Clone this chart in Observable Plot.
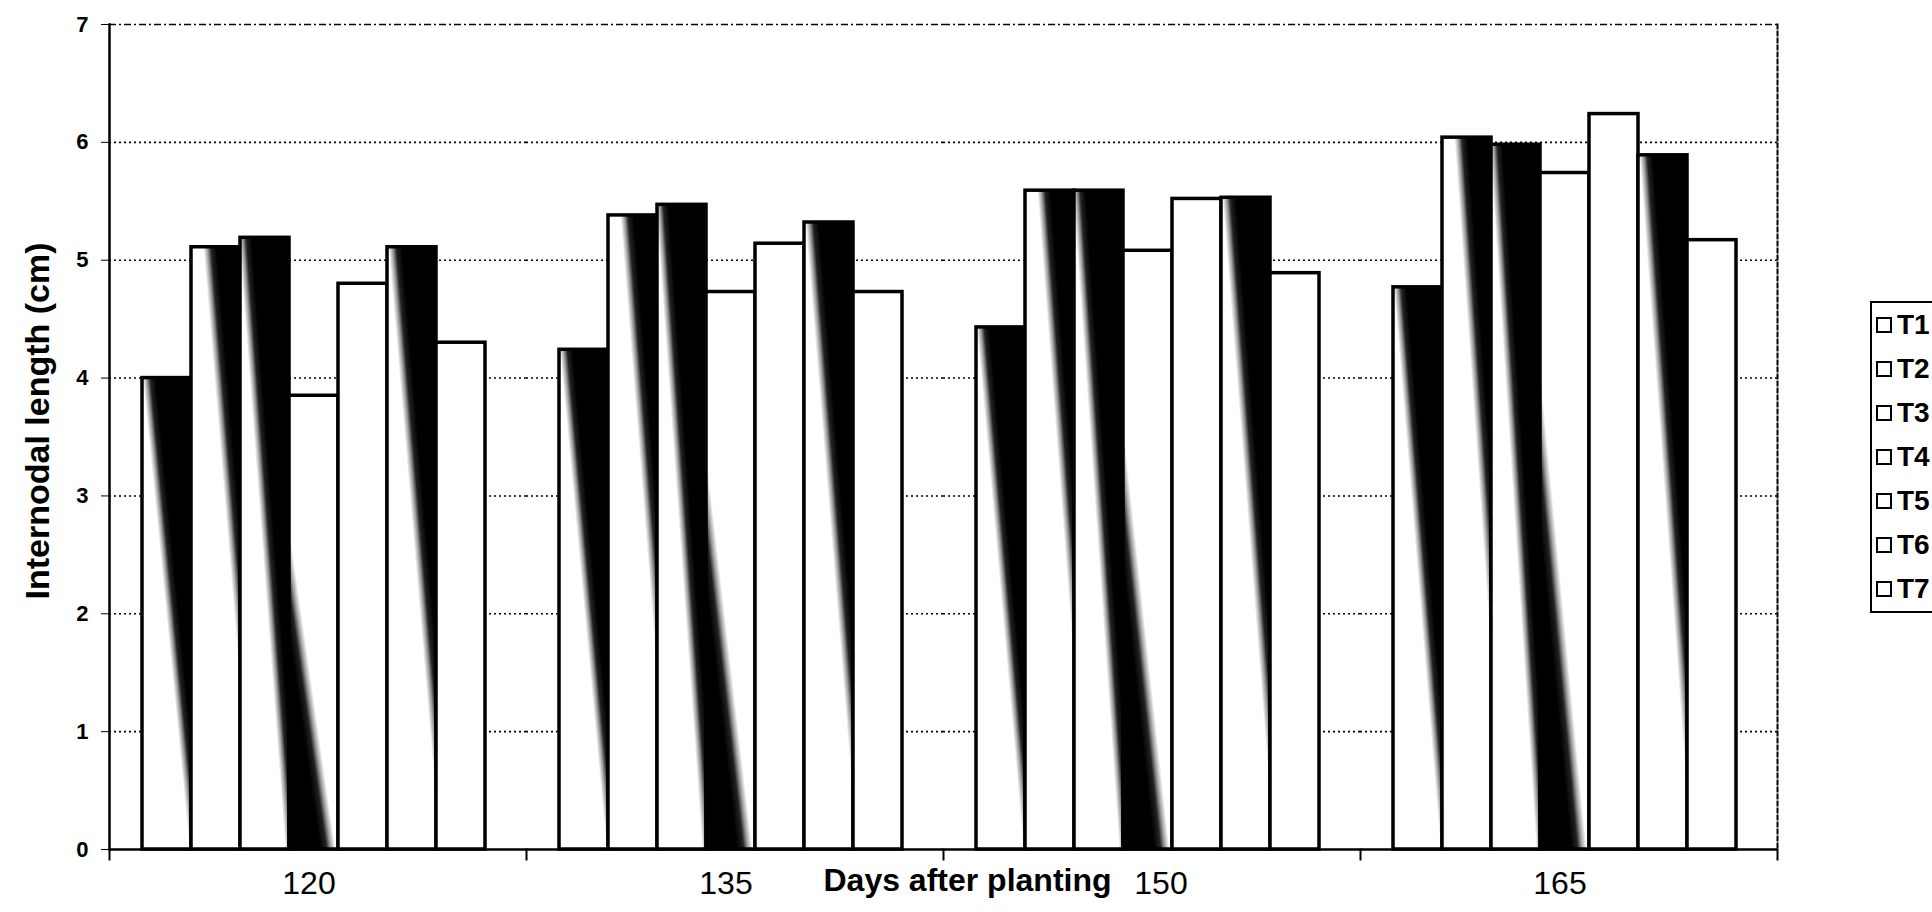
<!DOCTYPE html>
<html>
<head>
<meta charset="utf-8">
<script src="https://cdn.jsdelivr.net/npm/d3@7"></script>
<script src="https://cdn.jsdelivr.net/npm/@observablehq/plot@0.6"></script>
<style>
  html, body { margin: 0; padding: 0; background: #fff; overflow: hidden; }
  #wrap { position: relative; width: 1932px; height: 912px; font-family: "Liberation Sans", Arial, sans-serif; }
  #legend { position: absolute; left: 1870px; top: 301px; width: 100px; border: 2.5px solid #000; box-sizing: border-box; background: #fff; padding: 0; }
  #legend .row { display: flex; align-items: center; height: 44px; }
  #legend .sw { width: 16px; height: 16px; border: 2.5px solid #000; box-sizing: border-box; margin-left: 4px; margin-right: 5px; background: #fff; }
  #legend .lab { font-weight: bold; font-size: 28px; line-height: 1; }
</style>
</head>
<body>
<div id="wrap">
  <svg width="0" height="0" style="position:absolute"><defs id="shades"></defs></svg>
  <div id="legend"></div>
</div>
<script>
// Days after planting (x categories) and treatments (bar series)
const days = ["120", "135", "150", "165"];
const series = ["T1", "T2", "T3", "T4", "T5", "T6", "T7"];

// Internodal length (cm) per treatment, one value per day
const T1 = [4.00, 4.24, 4.43, 4.77];
const T2 = [5.11, 5.38, 5.59, 6.04];
const T3 = [5.19, 5.47, 5.59, 5.98];
const T4 = [3.85, 4.73, 5.08, 5.74];
const T5 = [4.80, 5.14, 5.52, 6.24];
const T6 = [5.11, 5.32, 5.53, 5.89];
const T7 = [4.30, 4.73, 4.89, 5.17];

const yTicks = [0, 1, 2, 3, 4, 5, 6, 7];
const xTitle = "Days after planting";
const yTitle = "Internodal length (cm)";

const values = {T1, T2, T3, T4, T5, T6, T7};
const rows = series.flatMap(s => days.map((day, i) => ({day, series: s, value: values[s][i]})));

// Diagonal black-to-white shading for some treatments, in bar-box units:
// [edge start, edge end, point on the dark side]
const shadeEdges = {
  T1: [[0.14, 0], [0.95, 0.85], [1, 0]],
  T2: [[0.38, 0], [1, 0.60], [1, 0]],
  T3: [[0.10, 0], [1, 0.95], [1, 0]],
  T4: [[0, 0.40], [0.80, 1], [0, 1]],
  T6: [[0.16, 0], [1, 0.80], [1, 0]]
};

const defs = d3.select("#shades");
for (const [s, [p0, p1, toward]] of Object.entries(shadeEdges)) {
  const mx = (p0[0] + p1[0]) / 2, my = (p0[1] + p1[1]) / 2;
  let nx = p1[1] - p0[1], ny = -(p1[0] - p0[0]);
  if ((toward[0] - mx) * nx + (toward[1] - my) * ny < 0) { nx = -nx; ny = -ny; }
  const len = Math.hypot(nx, ny), h = 0.5;
  nx = nx / len * h; ny = ny / len * h;
  const g = defs.append("linearGradient")
    .attr("id", `shade-${s}`)
    .attr("gradientUnits", "objectBoundingBox")
    .attr("x1", mx - nx).attr("y1", my - ny)
    .attr("x2", mx + nx).attr("y2", my + ny);
  [[0, "#fff"], [0.41, "#fff"], [0.47, "#999"], [0.52, "#222"], [0.6, "#000"], [1, "#000"]]
    .forEach(([o, c]) => g.append("stop").attr("offset", o).attr("stop-color", c));
}

const W = 1932, H = 912;
const mL = 108, mR = 154, mT = 24, mB = 63;
const innerH = H - mT - mB;

const tickText = {anchor: "bottom", tickSize: 0, tickPadding: 22, fontSize: 32, label: null};

const chart = Plot.plot({
  width: W,
  height: H,
  marginLeft: mL,
  marginRight: mR,
  marginTop: mT,
  marginBottom: mB,
  style: {fontFamily: '"Liberation Sans", Arial, sans-serif', color: "#000", background: "transparent", overflow: "visible"},
  fx: {domain: days, padding: 0},
  x: {domain: series, paddingInner: 0, paddingOuter: 0.75, align: 0.45, axis: null},
  y: {domain: [0, 7]},
  color: {domain: series, range: series.map(s => shadeEdges[s] ? `url(#shade-${s})` : "#fff")},
  marks: [
    Plot.gridY(yTicks.slice(1, 7), {stroke: "#000", strokeOpacity: 1, strokeWidth: 1.6, strokeDasharray: "2,3"}),
    Plot.gridY([7], {stroke: "#000", strokeOpacity: 1, strokeWidth: 1.6, strokeDasharray: "7,3,2,3"}),
    Plot.barY(rows, {fx: "day", x: "series", y: "value", fill: "series", stroke: "#000", strokeWidth: 3.5}),
    Plot.ruleY([0], {stroke: "#000", strokeWidth: 2.5}),
    Plot.frame({anchor: "left", facetAnchor: "left", stroke: "#000", strokeWidth: 2.5}),
    Plot.frame({anchor: "right", facetAnchor: "right", stroke: "#000", strokeWidth: 2, strokeDasharray: "4,3"}),
    // short ticks under the baseline at the category edges
    Plot.frame({anchor: "left", insetTop: innerH, insetBottom: -10, stroke: "#000", strokeWidth: 2}),
    Plot.frame({anchor: "right", facetAnchor: "right", insetTop: innerH, insetBottom: -10, stroke: "#000", strokeWidth: 2}),
    Plot.axisY({ticks: yTicks, tickFormat: d => String(d), tickSize: 8, tickPadding: 13, fontSize: 22, fontWeight: "bold", label: null}),
    // day labels; "150" sits a little right of its band centre, clear of the title
    Plot.axisFx({...tickText, ticks: days.filter(d => d !== "150"), dx: -9}),
    Plot.axisFx({...tickText, ticks: ["150"], dx: 9}),
    // axis titles, drawn once over the whole frame
    Plot.text([xTitle], {facet: "super", frameAnchor: "bottom", textAnchor: "middle", lineAnchor: "middle", dx: 24, dy: 31, fontSize: 32, fontWeight: "bold", fill: "#000"}),
    Plot.text([yTitle], {facet: "super", frameAnchor: "left", textAnchor: "middle", rotate: -90, lineAnchor: "middle", dx: -71, dy: -16, fontSize: 34, fontWeight: "bold", fill: "#000"})
  ]
});

const wrap = document.getElementById("wrap");
wrap.insertBefore(chart, document.getElementById("legend"));

// Legend: one outlined swatch per treatment
const legend = d3.select("#legend");
for (const s of series) {
  const row = legend.append("div").attr("class", "row");
  row.append("div").attr("class", "sw");
  row.append("div").attr("class", "lab").text(s);
}
</script>
</body>
</html>
